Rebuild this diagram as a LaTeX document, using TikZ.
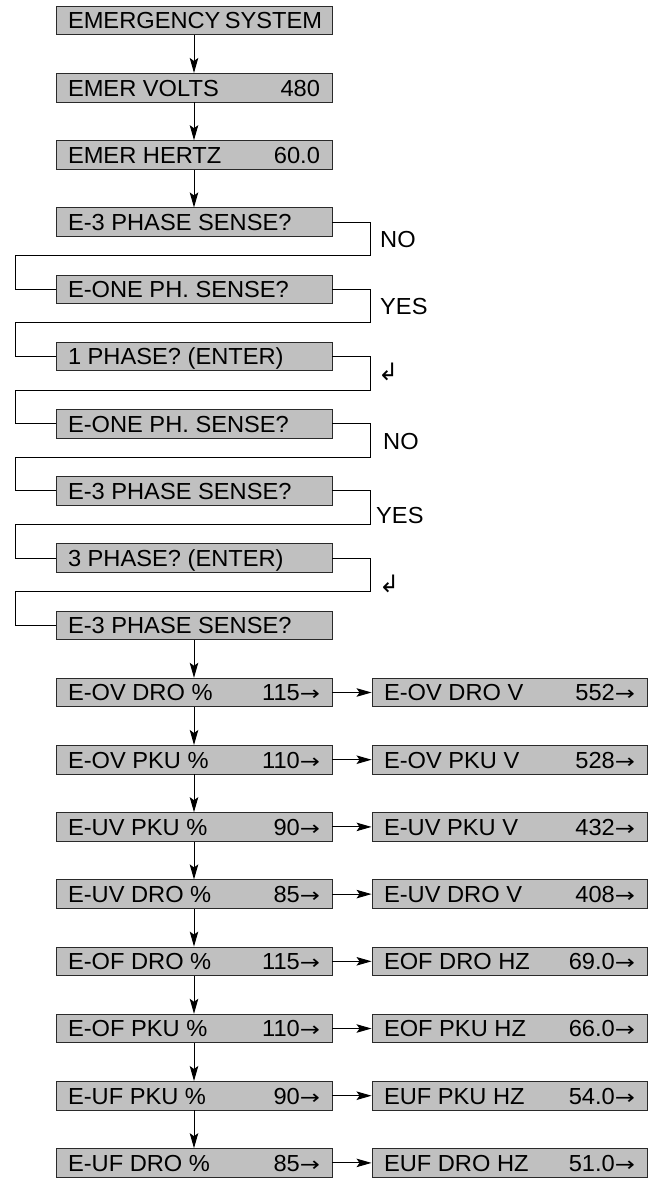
\documentclass[tikz,border=0pt]{standalone}
\usepackage{fontspec}
\setmainfont[FakeStretch=1.02]{Liberation Sans}
\newfontfamily\symfont{DejaVu Sans}
\newfontfamily\arrfont[FakeStretch=1.2]{DejaVu Sans}
\usetikzlibrary{arrows.meta,calc}
\definecolor{boxgray}{HTML}{C0C0C0}
\definecolor{edgegray}{HTML}{2A2A2A}
\newcommand\boxline[3]{\hbox to #1{#2\hfill #3}}
\newcommand\ra{{\arrfont\fontsize{20}{22}\selectfont →}}
\begin{document}
\begin{tikzpicture}[x=1pt,y=-1pt,
  every node/.style={font=\fontsize{23.2}{26}\selectfont},
  box/.style={draw=edgegray, line width=0.9pt, fill=boxgray, minimum height=28.5pt,
    inner xsep=12pt, inner ysep=0pt, text height=16.6pt, text depth=0pt},
  conn/.style={line width=1pt, black},
  arr/.style={conn, -{Stealth[length=15pt,width=8.5pt,inset=3pt]}},
  lbl/.style={anchor=west, inner sep=0pt}]
\useasboundingbox (0,0) rectangle (656,1178);
\coordinate (R) at (370,0);
\coordinate (L) at (15,0);
% left column
\node[box] (b1) at (194,20.5) {\boxline{252pt}{EMERGENCY SYSTEM}{}};
\node[box] (b2) at (194,87.7) {\boxline{252pt}{EMER VOLTS}{480}};
\node[box] (b3) at (194,154.9) {\boxline{252pt}{EMER HERTZ}{60.0}};
\node[box] (b4) at (194,222.1) {\boxline{252pt}{E-3 PHASE SENSE?}{}};
\node[box] (b5) at (194,289.3) {\boxline{252pt}{E-ONE PH. SENSE?}{}};
\node[box] (b6) at (194,356.5) {\boxline{252pt}{1 PHASE? (ENTER)}{}};
\node[box] (b7) at (194,423.7) {\boxline{252pt}{E-ONE PH. SENSE?}{}};
\node[box] (b8) at (194,490.9) {\boxline{252pt}{E-3 PHASE SENSE?}{}};
\node[box] (b9) at (194,558.1) {\boxline{252pt}{3 PHASE? (ENTER)}{}};
\node[box] (b10) at (194,625.3) {\boxline{252pt}{E-3 PHASE SENSE?}{}};
\node[box] (b11) at (194,692.5) {\boxline{252pt}{E-OV DRO \%}{115\ra}};
\node[box] (b12) at (194,759.7) {\boxline{252pt}{E-OV PKU \%}{110\ra}};
\node[box] (b13) at (194,826.9) {\boxline{252pt}{E-UV PKU \%}{90\ra}};
\node[box] (b14) at (194,894.1) {\boxline{252pt}{E-UV DRO \%}{85\ra}};
\node[box] (b15) at (194,961.3) {\boxline{252pt}{E-OF DRO \%}{115\ra}};
\node[box] (b16) at (194,1028.5) {\boxline{252pt}{E-OF PKU \%}{110\ra}};
\node[box] (b17) at (194,1095.7) {\boxline{252pt}{E-UF PKU \%}{90\ra}};
\node[box] (b18) at (194,1162.9) {\boxline{252pt}{E-UF DRO \%}{85\ra}};
% right column
\node[box] (c11) at (509.5,692.5) {\boxline{251pt}{E-OV DRO V}{552\ra}};
\node[box] (c12) at (509.5,759.7) {\boxline{251pt}{E-OV PKU V}{528\ra}};
\node[box] (c13) at (509.5,826.9) {\boxline{251pt}{E-UV PKU V}{432\ra}};
\node[box] (c14) at (509.5,894.1) {\boxline{251pt}{E-UV DRO V}{408\ra}};
\node[box] (c15) at (509.5,961.3) {\boxline{251pt}{EOF DRO HZ}{69.0\ra}};
\node[box] (c16) at (509.5,1028.5) {\boxline{251pt}{EOF PKU HZ}{66.0\ra}};
\node[box] (c17) at (509.5,1095.7) {\boxline{251pt}{EUF PKU HZ}{54.0\ra}};
\node[box] (c18) at (509.5,1162.9) {\boxline{251pt}{EUF DRO HZ}{51.0\ra}};
% vertical arrows
\draw[arr] (b1.south) -- (b2.north);
\draw[arr] (b2.south) -- (b3.north);
\draw[arr] (b3.south) -- (b4.north);
\foreach \i [evaluate=\i as \j using int(\i+1)] in {10,...,17}
  \draw[arr] (b\i.south) -- (b\j.north);
% horizontal arrows
\foreach \i in {11,...,18}
  \draw[arr] (b\i.east) -- (c\i.west);
% loop connectors
\foreach \i [evaluate=\i as \j using int(\i+1)] in {4,...,9}{
  \coordinate (m\i) at ($(b\i)!0.5!(b\j)$);
  \draw[conn] (b\i.east) -| (R |- m\i) -| (L |- b\j) -- (b\j.west);
}
% labels
\node[lbl] (n1) at (380,240) {NO};
\node[lbl] (y1) at (380,307) {YES};
\node[lbl] (e1) at (378,372) {\symfont\fontsize{24}{26}\selectfont ↲};
\node[lbl] (n2) at (383,442) {NO};
\node[lbl] (y2) at (376,515.5) {YES};
\node[lbl] (e2) at (379,584) {\symfont\fontsize{24}{26}\selectfont ↲};
\end{tikzpicture}
\end{document}
